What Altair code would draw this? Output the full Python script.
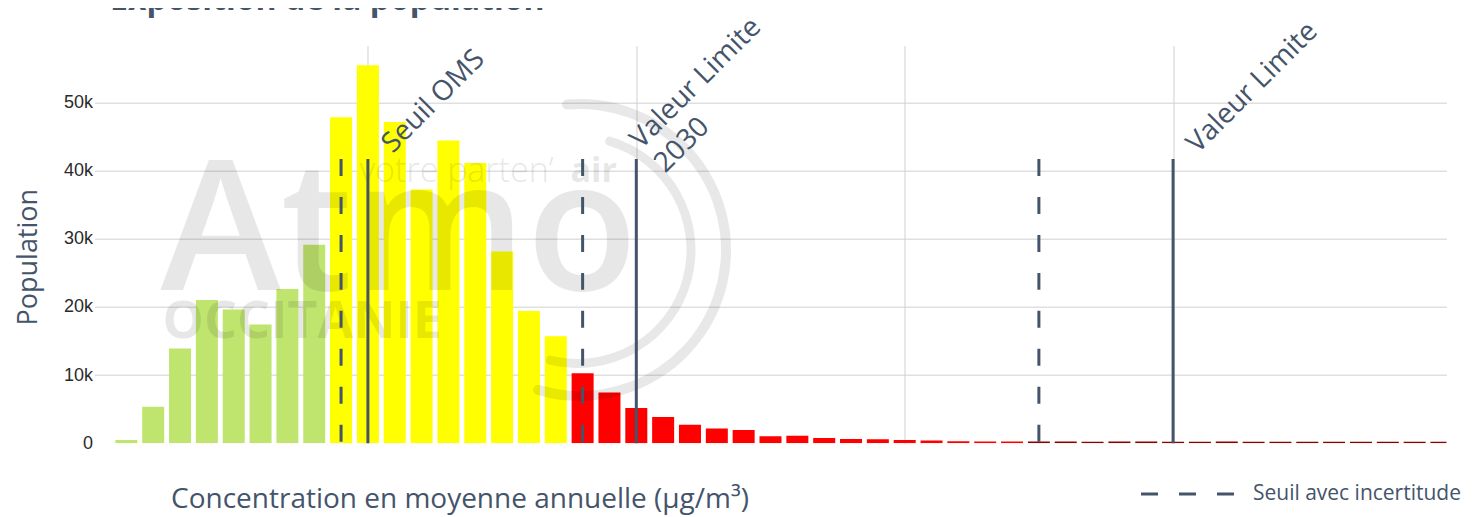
import altair as alt
import pandas as pd

# ---------------- data ----------------
concentrations = list(range(1, 51))
population = [450, 5350, 13900, 21000, 19600, 17400, 22600, 29100,
              47800, 55450, 47100, 37200, 44400, 41100, 28100, 19400, 15700,
              10250, 7450, 5150, 3850, 2700, 2150, 1950, 1000, 1100, 750, 600,
              580, 480, 380, 300, 260, 250,
              260, 260, 220, 250, 250, 220, 220, 230, 220, 220, 215, 210, 210,
              205, 200, 200]

limit_values = [10, 20, 40]
limit_labels = ["Seuil OMS", "Valeur Limite\n2030", "Valeur Limite"]
uncert_values = [9, 18, 35]
line_top = 41700

class_names = ["vert", "jaune", "rouge", "bordeaux"]
class_colors = ["#bfe56f", "#ffff00", "#ff0000", "#8b0000"]

y_ticks = [0, 10000, 20000, 30000, 40000, 50000]
x_grid = [10, 20, 30, 40]

TXT = "#44546a"
FONT = "Open Sans"

# ---------------- tables ----------------
def classify(c):
    if c < uncert_values[0]:
        return class_names[0]
    if c < uncert_values[1]:
        return class_names[1]
    if c < uncert_values[2]:
        return class_names[2]
    return class_names[3]

bars_df = pd.DataFrame({"conc": concentrations, "pop": population})
bars_df["classe"] = [classify(c) for c in concentrations]

limits_df = pd.DataFrame({"x": limit_values, "label": limit_labels,
                          "top": [line_top] * 3, "bottom": [0] * 3})
uncert_df = pd.DataFrame({"x": uncert_values, "top": [line_top] * 3,
                          "bottom": [0] * 3})

W, H = 1352, 397.5

x_scale = alt.Scale(domain=[0, 50], nice=False, zero=False)
y_scale = alt.Scale(domain=[0, 58300], nice=False)

x_axis = alt.Axis(values=x_grid, labels=False, ticks=False, domain=False,
                  grid=True, gridColor="#d0d0d0", title=None)
y_axis = alt.Axis(values=y_ticks,
                  labelExpr="datum.value === 0 ? '0' : format(datum.value / 1000, 'd') + 'k'",
                  ticks=False, domain=False,
                  grid=True, gridColor="#d0d0d0",
                  gridOpacity={"condition": {"test": "datum.value === 0",
                                             "value": 0}, "value": 1},
                  labelFont="Liberation Sans",
                  labelFontSize=18, labelColor="#2a2a2a", labelPadding=2,
                  title="Population", titleFont=FONT, titleFontSize=27,
                  titleFontWeight="normal", titleColor=TXT,
                  titleX=-66, titleY=211, titleAlign="center",
                  titleBaseline="middle", titleAngle=270)

bars = alt.Chart(bars_df).mark_bar(size=22, clip=True).encode(
    x=alt.X("conc:Q", scale=x_scale, axis=x_axis),
    y=alt.Y("pop:Q", scale=y_scale, axis=y_axis),
    color=alt.Color("classe:N", scale=alt.Scale(domain=class_names,
                                                 range=class_colors),
                    legend=None),
)

# ---------------- watermark ----------------
wm_df = pd.DataFrame({"k": [0]})
WM = 0.09


def wm_text(txt, x, y, size, weight="normal"):
    return alt.Chart(wm_df).mark_text(
        font=FONT, fontSize=size, fontWeight=weight, align="left",
        baseline="alphabetic", color="#000000", opacity=WM
    ).encode(x=alt.value(x), y=alt.value(y), text=alt.value(txt))


wm_atmo = wm_text("Atmo", 66, 244, 182, 600)
wm_occ = wm_text("OCCITANIE", 68, 292, 52, "bold")
wm_votre = wm_text("votre parten\u2019", 265, 136, 34, 300)
wm_air = wm_text("air", 476, 136, 34, "bold")

arc_outer = alt.Chart(wm_df).mark_arc(
    x=485.5, y=204.3, radius=151, radius2=141, theta=6.16, theta2=9.75,
    cornerRadius=5, color="#000000"
).encode(opacity=alt.value(WM))
arc_inner = alt.Chart(wm_df).mark_arc(
    x=483, y=204.3, radius=118, radius2=109, theta=0.25, theta2=3.42,
    cornerRadius=4, color="#000000"
).encode(opacity=alt.value(WM))

# ---------------- threshold lines ----------------
solid = alt.Chart(limits_df).mark_rule(strokeWidth=3, color=TXT).encode(
    x=alt.X("x:Q", scale=x_scale), y=alt.Y("top:Q", scale=y_scale),
    y2="bottom:Q")
dashed = alt.Chart(uncert_df).mark_rule(strokeWidth=3, color=TXT,
                                         strokeDash=[17, 21]).encode(
    x=alt.X("x:Q", scale=x_scale), y=alt.Y("top:Q", scale=y_scale),
    y2="bottom:Q")

single = limits_df[~limits_df["label"].str.contains("\n")]
multi = limits_df[limits_df["label"].str.contains("\n")]

lab_single = alt.Chart(single).mark_text(
    angle=315, align="left", baseline="alphabetic", font=FONT, fontSize=28,
    color=TXT, dx=21, dy=14
).encode(x=alt.X("x:Q", scale=x_scale), y=alt.Y("top:Q", scale=y_scale),
         text="label:N")
lab_multi = alt.Chart(multi).mark_text(
    angle=315, align="left", baseline="alphabetic", font=FONT, fontSize=28,
    color=TXT, dx=10, dy=-3, lineBreak="\n", lineHeight=34
).encode(x=alt.X("x:Q", scale=x_scale), y=alt.Y("top:Q", scale=y_scale),
         text="label:N")

# ---------------- titles & legend ----------------
title = alt.Chart(wm_df).mark_text(
    font=FONT, fontSize=32, fontWeight="bold", color=TXT, align="left",
    baseline="alphabetic"
).encode(x=alt.value(15.5), y=alt.value(-35.7),
         text=alt.value("Exposition de la population"))

x_title = alt.Chart(wm_df).mark_text(
    font=FONT, fontSize=28, color=TXT, align="center", baseline="alphabetic"
).encode(x=alt.value(365.5), y=alt.value(462),
         text=alt.value("Concentration en moyenne annuelle (\u00b5g/m\u00b3)"))

leg_line = alt.Chart(wm_df).mark_rule(strokeWidth=3, color=TXT,
                                       strokeDash=[17, 21]).encode(
    x=alt.value(1046.5), x2=alt.value(1139.5), y=alt.value(448.3))
leg_text = alt.Chart(wm_df).mark_text(
    font=FONT, fontSize=21, color=TXT, align="left", baseline="middle"
).encode(x=alt.value(1158.5), y=alt.value(448.8),
         text=alt.value("Seuil avec incertitude"))

chart = alt.layer(
    bars, wm_atmo, wm_occ, wm_votre, wm_air, arc_outer, arc_inner,
    dashed, solid, lab_single, lab_multi, title, x_title, leg_line, leg_text
).properties(
    width=W, height=H,
    autosize=alt.AutoSizeParams(type="none"),
    padding={"left": 86.5, "top": 37.7, "right": 23.5, "bottom": 72},
).configure(background="white").configure_view(stroke=None)

chart.save("out.html", embed_options={"renderer": "svg", "actions": False})
